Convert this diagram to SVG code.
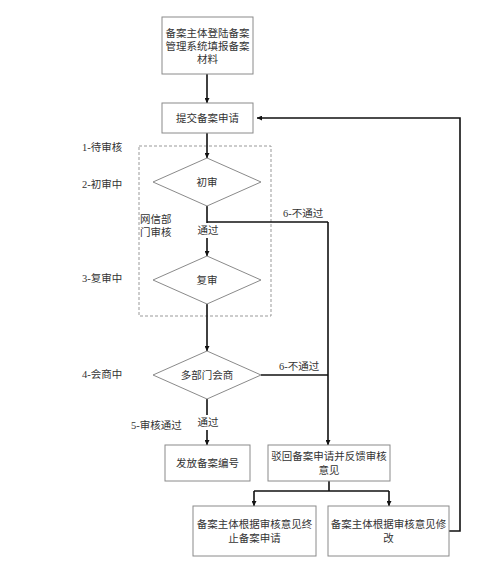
<svg xmlns="http://www.w3.org/2000/svg" width="500" height="576" viewBox="0 0 500 576">
<defs>
<marker id="ah" viewBox="0 0 10 10" refX="10" refY="5" markerWidth="5" markerHeight="5" orient="auto-start-reverse" markerUnits="userSpaceOnUse">
<path d="M0,0 L10,5 L0,10 z" fill="#111"/>
</marker>
<style>
.box{fill:#fff;stroke:#8a8a8a;stroke-width:1}
.dia{fill:#fff;stroke:#8a8a8a;stroke-width:1}
.t{font-family:"Liberation Serif","Noto Sans CJK SC",serif;font-size:10.5px;fill:#333;text-anchor:middle;dominant-baseline:central}
.l{font-family:"Liberation Serif","Noto Sans CJK SC",serif;font-size:10.5px;fill:#333;dominant-baseline:central}
.c{fill:none;stroke:#111;stroke-width:1.6}
.ca{fill:none;stroke:#111;stroke-width:1.6;marker-end:url(#ah)}
.bg{fill:#fff}
</style>
</defs>
<rect width="500" height="576" fill="#fff"/>
<g id="group-review">
<rect x="139" y="146" width="132" height="170" fill="none" stroke="#999" stroke-width="1" stroke-dasharray="3,2"/>
<text class="l" x="140" y="219">网信部</text>
<text class="l" x="140" y="232">门审核</text>
</g>
<g id="connectors">
<path class="ca" d="M207,74 V103"/>
<path class="ca" d="M207,133 V158"/>
<path class="ca" d="M207,206 V256"/>
<path class="c" d="M207,222 H328"/>
<path class="ca" d="M328,222 V445"/>
<path class="ca" d="M207,304 V351"/>
<path class="c" d="M261,375 H328"/>
<path class="ca" d="M207,399 V445"/>
<path class="c" d="M329,481 V491"/>
<path class="ca" d="M254,491 V506"/>
<path class="ca" d="M389,491 V506"/>
<path class="c" d="M254,491 H389"/>
<path class="ca" d="M449,531 H460 V118 H257"/>
<text class="l" x="283" y="213">6-不通过</text>
<rect class="bg" x="196" y="223" width="23" height="15"/>
<text class="t" x="208" y="230">通过</text>
<text class="l" x="279" y="366">6-不通过</text>
<rect class="bg" x="196" y="415" width="23" height="15"/>
<text class="t" x="208" y="422">通过</text>
</g>
<g id="stage-labels">
<text class="l" x="82" y="147">1-待审核</text>
<text class="l" x="82" y="184">2-初审中</text>
<text class="l" x="82" y="278">3-复审中</text>
<text class="l" x="82" y="374">4-会商中</text>
<text class="l" x="131" y="425">5-审核通过</text>
</g>
<g id="n-login">
<rect class="box" x="162" y="17" width="91" height="57"/>
<text class="t" x="207.5" y="33">备案主体登陆备案</text>
<text class="t" x="207.5" y="46">管理系统填报备案</text>
<text class="t" x="207.5" y="59">材料</text>
</g>
<g id="n-submit">
<rect class="box" x="162" y="103" width="91" height="30"/>
<text class="t" x="207.5" y="118">提交备案申请</text>
</g>
<g id="n-first">
<polygon class="dia" points="207,158 261,182 207,206 153,182"/>
<text class="t" x="207" y="182">初审</text>
</g>
<g id="n-second">
<polygon class="dia" points="207,256 261,280 207,304 153,280"/>
<text class="t" x="207" y="280">复审</text>
</g>
<g id="n-joint">
<polygon class="dia" points="207,351 261,375 207,399 153,375"/>
<text class="t" x="207" y="375">多部门会商</text>
</g>
<g id="n-issue">
<rect class="box" x="165" y="445" width="85" height="36"/>
<text class="t" x="207.5" y="463">发放备案编号</text>
</g>
<g id="n-reject">
<rect class="box" x="268" y="445" width="122" height="36"/>
<text class="t" x="329" y="456">驳回备案申请并反馈审核</text>
<text class="t" x="329" y="470">意见</text>
</g>
<g id="n-terminate">
<rect class="box" x="193" y="506" width="123" height="50"/>
<text class="t" x="254.5" y="524">备案主体根据审核意见终</text>
<text class="t" x="254.5" y="538">止备案申请</text>
</g>
<g id="n-modify">
<rect class="box" x="328" y="506" width="121" height="50"/>
<text class="t" x="388.5" y="524">备案主体根据审核意见修</text>
<text class="t" x="388.5" y="538">改</text>
</g>
</svg>
